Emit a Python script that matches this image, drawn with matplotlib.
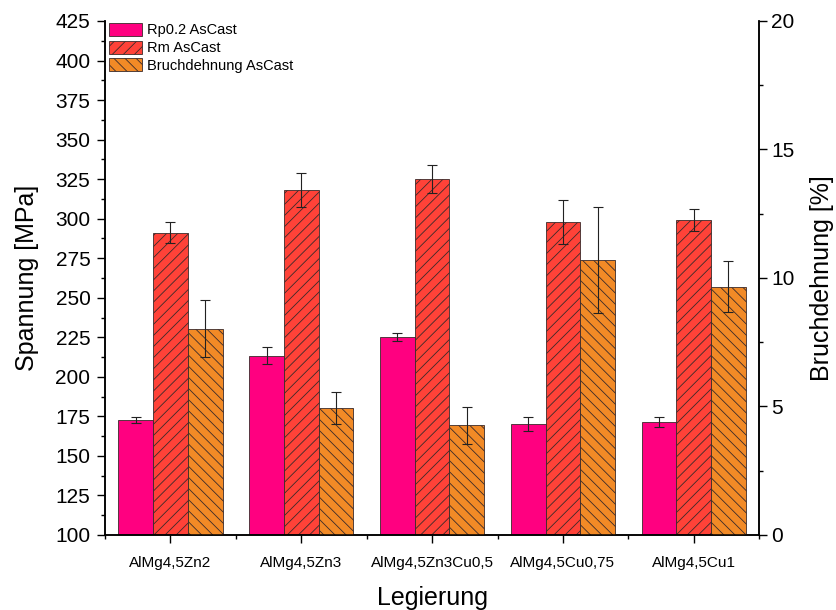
import numpy as np
import matplotlib
matplotlib.use("Agg")
import matplotlib.pyplot as plt
from matplotlib.ticker import MultipleLocator

plt.rcParams['font.family'] = ['Liberation Sans', 'DejaVu Sans']
plt.rcParams['hatch.linewidth'] = 0.6

alloys = ['AlMg4,5Zn2', 'AlMg4,5Zn3', 'AlMg4,5Zn3Cu0,5', 'AlMg4,5Cu0,75', 'AlMg4,5Cu1']
rp02 = [172.6, 213.3, 225.1, 169.9, 171.4]
rp02_err = [2.1, 5.5, 2.4, 4.4, 3.0]
rm = [291.2, 318.1, 325.3, 297.7, 299.0]
rm_err = [6.6, 10.9, 8.8, 13.8, 7.0]
elong = [8.03, 4.95, 4.26, 10.70, 9.66]
elong_err = [1.1, 0.62, 0.72, 2.08, 1.0]

x = np.arange(len(alloys))
w = 0.2655
edge = '#3a2a2a'
err_kw = dict(fmt='none', ecolor='#222222', elinewidth=0.8, capsize=3.7, capthick=0.8, zorder=5)

fig = plt.figure(figsize=(8.37, 6.10), dpi=100)
ax = fig.add_axes([0.1255, 0.123, 0.7815, 0.8426])
ax2 = ax.twinx()

b1 = ax.bar(x - w, rp02, w, color='#FF0080', edgecolor=edge, linewidth=0.6, label='Rp0.2 AsCast')
b2 = ax.bar(x, rm, w, color='#FF4238', edgecolor=edge, linewidth=0.6, hatch='///', label='Rm AsCast')
ax.errorbar(x - w, rp02, yerr=rp02_err, **err_kw)
ax.errorbar(x, rm, yerr=rm_err, **err_kw)

b3 = ax2.bar(x + w, elong, w, color='#F28A26', edgecolor=edge, linewidth=0.6, hatch='\\\\\\',
             label='Bruchdehnung AsCast')
ax2.errorbar(x + w, elong, yerr=elong_err, **err_kw)

ax.set_xlim(-0.5, 4.5)
ax.set_ylim(100, 425)
ax2.set_ylim(0, 20)

ax.set_xticks(x)
ax.set_xticklabels(alloys, fontsize=11)
ax.xaxis.set_minor_locator(MultipleLocator(1, offset=0.5))
ax.yaxis.set_major_locator(MultipleLocator(25))
ax.yaxis.set_minor_locator(MultipleLocator(12.5))
ax2.yaxis.set_major_locator(MultipleLocator(5))
ax2.yaxis.set_minor_locator(MultipleLocator(2.5))

for a in (ax, ax2):
    a.spines['top'].set_visible(False)
    for s in a.spines.values():
        s.set_linewidth(1.1)
    a.tick_params(which='major', direction='out', length=5.5, width=1.0)
    a.tick_params(which='minor', direction='out', length=3, width=1.0)

ax.tick_params(axis='y', labelsize=15, pad=5)
ax.tick_params(axis='x', pad=10)
ax2.tick_params(axis='y', labelsize=15, pad=3)

ax.set_xlabel('Legierung', fontsize=18, labelpad=11)
ax.set_ylabel('Spannung [MPa]', fontsize=18, labelpad=12)
ax2.set_ylabel('Bruchdehnung [%]', fontsize=18, labelpad=11)

ax2.legend(handles=[b1, b2, b3], loc='upper left', bbox_to_anchor=(0.0, 1.005),
           frameon=False, fontsize=10.5, handlelength=2.25, handleheight=1.0,
           labelspacing=0.22, handletextpad=0.35, borderpad=0.3, borderaxespad=0)

fig.savefig('out.png', dpi=100)
